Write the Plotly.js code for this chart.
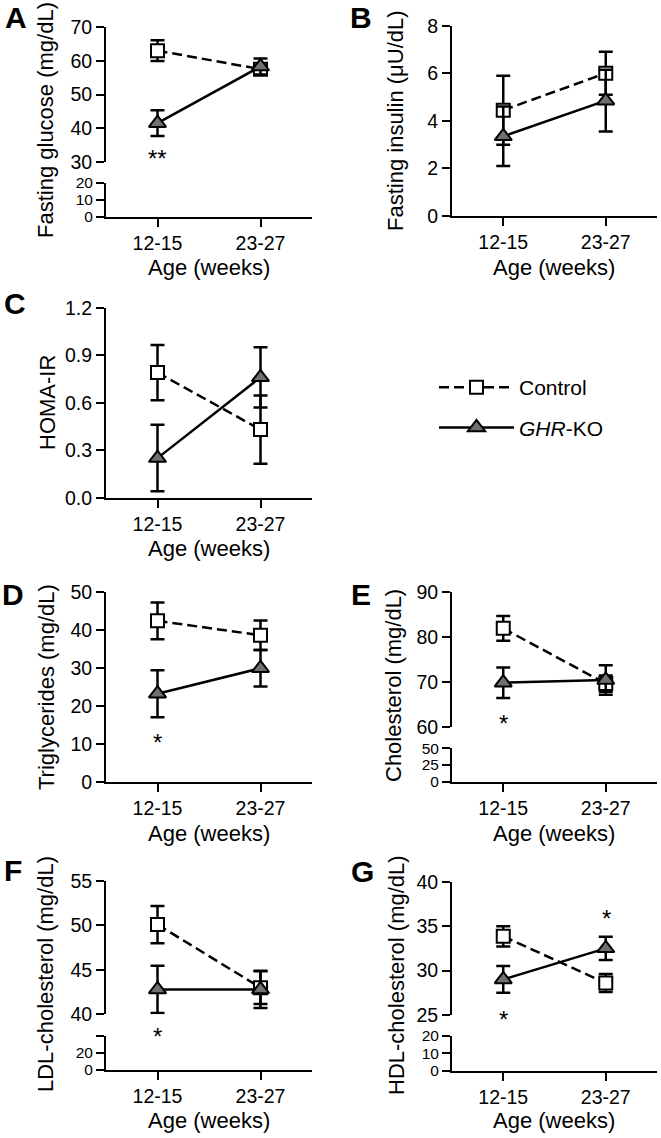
<!DOCTYPE html>
<html><head><meta charset="utf-8">
<script src="https://cdn.plot.ly/plotly-3.0.1.min.js"></script>
<style>html,body{margin:0;padding:0;background:#fff}#chart{width:661px;height:1138px}</style>
</head><body><div id="chart"></div>
<script>
// ---- data ----
const ages = ['12-15', '23-27'];
const glucoseCtrl = [63.0, 57.5];   const glucoseCtrlErr = [3.1, 1.6];
const glucoseKO   = [41.5, 58.3];   const glucoseKOErr   = [3.8, 2.4];
const insulinCtrl = [4.45, 6.0];    const insulinCtrlErr = [1.45, 0.9];
const insulinKO   = [3.35, 4.85];   const insulinKOErr   = [1.25, 1.3];
const homaCtrl    = [0.79, 0.43];   const homaCtrlErr    = [0.175, 0.215];
const homaKO      = [0.25, 0.76];   const homaKOErr      = [0.21, 0.19];
const tgCtrl      = [42.4, 38.6];   const tgCtrlErr      = [4.85, 3.9];
const tgKO        = [23.2, 29.9];   const tgKOErr        = [6.2, 4.8];
const cholCtrl    = [81.9, 69.6];   const cholCtrlErr    = [2.75, 1.8];
const cholKO      = [69.8, 70.4];   const cholKOErr      = [3.4, 3.3];
const ldlCtrl     = [50.1, 43.0];   const ldlCtrlErr     = [2.1, 1.85];
const ldlKO       = [42.8, 42.8];   const ldlKOErr       = [2.65, 2.1];
const hdlCtrl     = [33.85, 28.6];  const hdlCtrlErr     = [1.15, 1.0];
const hdlKO       = [29.0, 32.5];   const hdlKOErr       = [1.5, 1.3];
const seriesNames = ['Control', '<i>GHR</i>-KO'];

// ---- layout helpers ----
const W = 661, H = 1138;
const FONT = 'Liberation Sans, Arial, Helvetica, sans-serif';
const yd = (top, bottom) => [1 - bottom / H, 1 - top / H];
const LX = [106 / W, 312 / W], RX = [452 / W, 657 / W];

function tr(xa, ya, y, e, ko, show) {
  return {
    type: 'scatter', mode: 'lines+markers', x: ages, y: y, xaxis: xa, yaxis: ya,
    name: seriesNames[ko ? 1 : 0], showlegend: show, legendgroup: ko ? 'k' : 'c',
    cliponaxis: false, hoverinfo: 'skip',
    error_y: {type: 'data', array: e, visible: true, color: '#000', thickness: 2.5, width: 7},
    line: ko ? {color: '#000', width: 2.5} : {color: '#000', width: 2.5, dash: '10px,5px'},
    marker: ko ? {symbol: 'triangle-up', size: 15, color: '#707070', line: {color: '#000', width: 2}}
               : {symbol: 'square', size: 13, color: '#fff', line: {color: '#000', width: 2}}
  };
}
function empty(xa, ya) { return {type: 'scatter', x: [], y: [], xaxis: xa, yaxis: ya, showlegend: false, hoverinfo: 'skip'}; }

const data = [
  tr('x', 'y', glucoseCtrl, glucoseCtrlErr, false, true),
  tr('x', 'y', glucoseKO, glucoseKOErr, true, true),
  empty('x', 'y2'),
  tr('x2', 'y3', insulinCtrl, insulinCtrlErr, false, false),
  tr('x2', 'y3', insulinKO, insulinKOErr, true, false),
  tr('x3', 'y4', homaCtrl, homaCtrlErr, false, false),
  tr('x3', 'y4', homaKO, homaKOErr, true, false),
  tr('x4', 'y5', tgCtrl, tgCtrlErr, false, false),
  tr('x4', 'y5', tgKO, tgKOErr, true, false),
  tr('x5', 'y6', cholCtrl, cholCtrlErr, false, false),
  tr('x5', 'y6', cholKO, cholKOErr, true, false),
  empty('x5', 'y7'),
  tr('x6', 'y8', ldlCtrl, ldlCtrlErr, false, false),
  tr('x6', 'y8', ldlKO, ldlKOErr, true, false),
  empty('x6', 'y9'),
  tr('x7', 'y10', hdlCtrl, hdlCtrlErr, false, false),
  tr('x7', 'y10', hdlKO, hdlKOErr, true, false),
  empty('x7', 'y11')
];

const base = {
  showline: true, linecolor: '#000', linewidth: 2, ticks: 'outside', ticklen: 8, tickwidth: 2,
  tickcolor: '#000', showgrid: false, zeroline: false, fixedrange: true,
  tickfont: {family: FONT, size: 19.5, color: '#000'}
};
const small = {tickfont: {family: FONT, size: 15.5, color: '#000'}};
const xa = (dom, anchor) => Object.assign({}, base, {type: 'category', range: [-0.5, 1.5], domain: dom, anchor: anchor});
const ya = (dom, anchor, range, extra) => Object.assign({}, base, {domain: dom, anchor: anchor, range: range}, extra || {});

const layout = {
  width: W, height: H, margin: {l: 0, r: 0, t: 0, b: 0},
  paper_bgcolor: '#fff', plot_bgcolor: 'rgba(0,0,0,0)',
  font: {family: FONT, color: '#000'},
  showlegend: true,
  legend: {x: 434 / W, xanchor: 'left', y: 1 - 367 / H, yanchor: 'top', font: {family: FONT, size: 21, color: '#000'},
           traceorder: 'grouped', tracegroupgap: 10, itemwidth: 75, bgcolor: 'rgba(0,0,0,0)'},
  // A
  xaxis: xa(LX, 'y2'),
  yaxis: ya(yd(27, 162), 'x', [30, 70], {dtick: 10}),
  yaxis2: ya(yd(183, 217), 'x', [0, 20], Object.assign({dtick: 10}, small)),
  // B
  xaxis2: xa(RX, 'y3'),
  yaxis3: ya(yd(25.7, 216), 'x2', [0, 8], {dtick: 2}),
  // C
  xaxis3: xa(LX, 'y4'),
  yaxis4: ya(yd(307.7, 497.7), 'x3', [0, 1.2], {dtick: 0.3, tickformat: '.1f'}),
  // D
  xaxis4: xa(LX, 'y5'),
  yaxis5: ya(yd(592, 781.7), 'x4', [0, 50], {dtick: 10}),
  // E
  xaxis5: xa(RX, 'y7'),
  yaxis6: ya(yd(592, 726.7), 'x5', [60, 90], {dtick: 10}),
  yaxis7: ya(yd(748.3, 781.7), 'x5', [0, 50], Object.assign({dtick: 25}, small)),
  // F
  xaxis6: xa(LX, 'y9'),
  yaxis8: ya(yd(881, 1014.3), 'x6', [40, 55], {dtick: 5}),
  yaxis9: ya(yd(1036, 1070), 'x6', [0, 40], Object.assign({tickvals: [0, 20, 40], ticktext: ['0', '20', '']}, small)),
  // G
  xaxis7: xa(RX, 'y11'),
  yaxis10: ya(yd(881.7, 1015), 'x7', [25, 40], {dtick: 5}),
  yaxis11: ya(yd(1036, 1070.7), 'x7', [0, 20], Object.assign({dtick: 10}, small)),
  annotations: []
};

const ann = layout.annotations;
function txt(text, xpx, ypx, size, extra) {
  ann.push(Object.assign({text: text, xref: 'paper', yref: 'paper', x: xpx / W, y: 1 - ypx / H,
    xanchor: 'center', yanchor: 'middle', showarrow: false, font: {family: FONT, size: size, color: '#000'}}, extra || {}));
}
// panel letters
[['A', 16, 18], ['B', 361, 18], ['C', 15, 303], ['D', 13, 595], ['E', 361, 594], ['F', 13, 870], ['G', 362, 871]]
  .forEach(p => txt('<b>' + p[0] + '</b>', p[1], p[2], 30));
// y titles
[['Fasting glucose (mg/dL)', 45, 120], ['Fasting insulin (μU/dL)', 395, 120], ['HOMA-IR', 47, 403],
 ['Triglycerides (mg/dL)', 46, 687], ['Cholesterol (mg/dL)', 393, 686], ['LDL-cholesterol (mg/dL)', 45, 974],
 ['HDL-cholesterol (mg/dL)', 396, 975]].forEach(p => txt(p[0], p[1], p[2], 22, {textangle: -90}));
// x titles
[[209, 268], [554, 268], [209, 548], [209, 833], [554, 833], [209, 1120], [554, 1120]]
  .forEach(p => txt('Age (weeks)', p[0], p[1], 22));
// significance marks
[['**', 157, 158], ['*', 157, 742], ['*', 503, 723], ['*', 157, 1036], ['*', 503, 1019], ['*', 606, 918]]
  .forEach(p => txt(p[0], p[1], p[2], 24));

Plotly.newPlot('chart', data, layout, {staticPlot: true});
</script></body></html>
